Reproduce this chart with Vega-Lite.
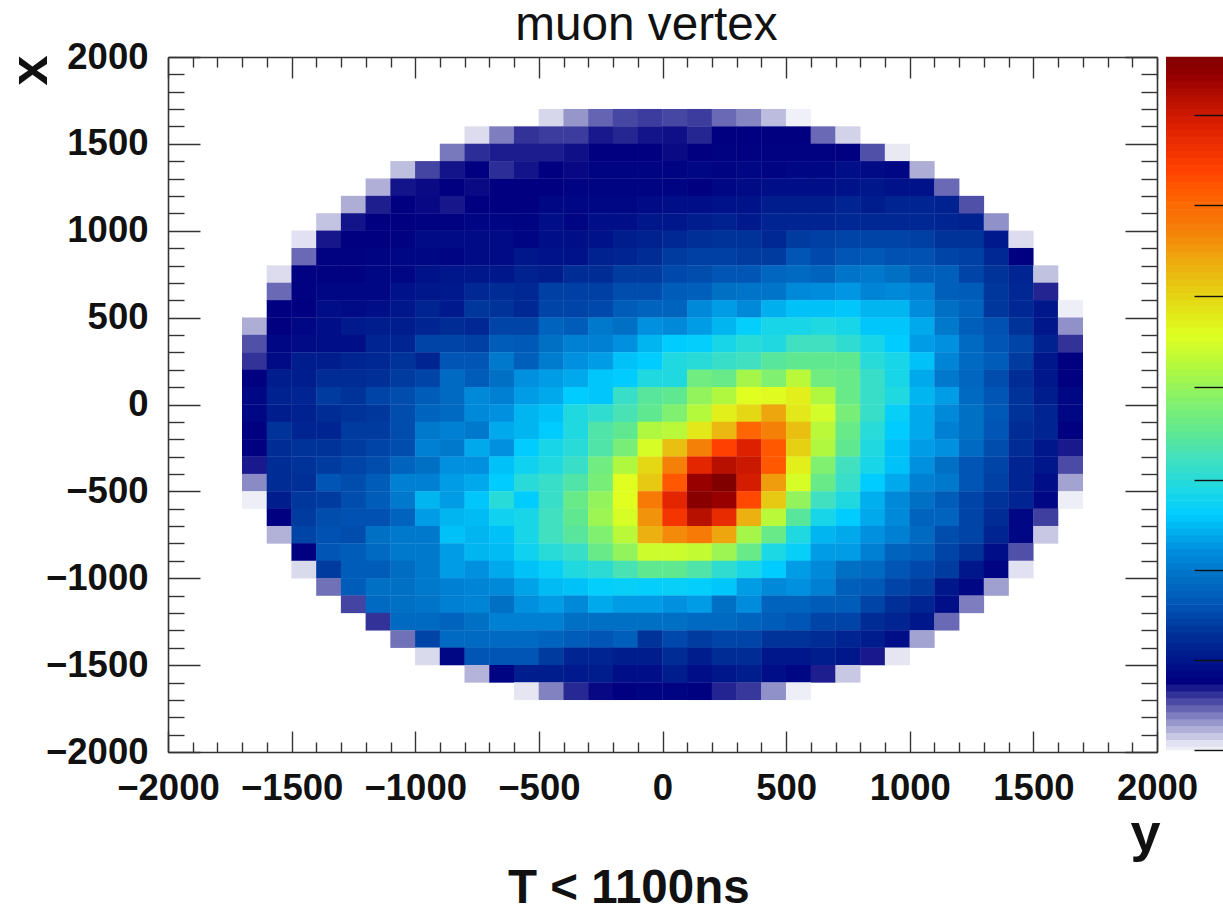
{"$schema":"https://vega.github.io/schema/vega-lite/v6.json","autosize":"pad","padding":{"left":3,"top":2,"right":0,"bottom":0},"background":"white","bounds":"flush","spacing":9,"config":{"view":{"stroke":null},"axis":{"grid":false,"labelFont":"Liberation Sans","labelFontWeight":"bold","labelColor":"#111","titleFont":"Liberation Sans","titleFontWeight":"bold","titleColor":"#111"}},
"title":{"text":"T < 1100ns","orient":"bottom","anchor":"start","font":"Liberation Sans","fontWeight":"bold","fontSize":47.5,"color":"#111","frame":"bounds","dx":505},
"datasets":{"corners":[{"y":-2000,"x":-2000},{"y":2000,"x":2000}],
"cells":[
{"y":-450,"x":1650,"v":1.4},{"y":-350,"x":1650,"v":4},{"y":-250,"x":1650,"v":6},{"y":-150,"x":1650,"v":7.2},{"y":-50,"x":1650,"v":7.6},{"y":50,"x":1650,"v":7.2},{"y":150,"x":1650,"v":7.6},{"y":250,"x":1650,"v":5.8},{"y":350,"x":1650,"v":4.7},{"y":450,"x":1650,"v":2.5},{"y":550,"x":1650,"v":0.4},
{"y":-750,"x":1550,"v":1.2},{"y":-650,"x":1550,"v":5},{"y":-550,"x":1550,"v":8},{"y":-450,"x":1550,"v":7.6},{"y":-350,"x":1550,"v":7.6},{"y":-250,"x":1550,"v":9},{"y":-150,"x":1550,"v":8.5},{"y":-50,"x":1550,"v":9.2},{"y":50,"x":1550,"v":9.4},{"y":150,"x":1550,"v":8.5},{"y":250,"x":1550,"v":10},{"y":350,"x":1550,"v":10},{"y":450,"x":1550,"v":10},{"y":550,"x":1550,"v":10},{"y":650,"x":1550,"v":5.8},{"y":750,"x":1550,"v":1.6},
{"y":-850,"x":1450,"v":5.2},{"y":-750,"x":1450,"v":8.2},{"y":-650,"x":1450,"v":8.9},{"y":-550,"x":1450,"v":8.9},{"y":-450,"x":1450,"v":8.9},{"y":-350,"x":1450,"v":9.4},{"y":-250,"x":1450,"v":10},{"y":-150,"x":1450,"v":10},{"y":-50,"x":1450,"v":10},{"y":50,"x":1450,"v":9.6},{"y":150,"x":1450,"v":10},{"y":250,"x":1450,"v":10.3},{"y":350,"x":1450,"v":10.3},{"y":450,"x":1450,"v":10.3},{"y":550,"x":1450,"v":10.3},{"y":650,"x":1450,"v":10.3},{"y":750,"x":1450,"v":10},{"y":850,"x":1450,"v":6.8},{"y":950,"x":1450,"v":0.7},
{"y":-1050,"x":1350,"v":2.4},{"y":-950,"x":1350,"v":7.3},{"y":-850,"x":1350,"v":9.2},{"y":-750,"x":1350,"v":10},{"y":-650,"x":1350,"v":8.2},{"y":-550,"x":1350,"v":9.2},{"y":-450,"x":1350,"v":10},{"y":-350,"x":1350,"v":9.7},{"y":-250,"x":1350,"v":10.5},{"y":-150,"x":1350,"v":10.5},{"y":-50,"x":1350,"v":10.5},{"y":50,"x":1350,"v":10.5},{"y":150,"x":1350,"v":11},{"y":250,"x":1350,"v":10.5},{"y":350,"x":1350,"v":11},{"y":450,"x":1350,"v":10.5},{"y":550,"x":1350,"v":11},{"y":650,"x":1350,"v":11},{"y":750,"x":1350,"v":12},{"y":850,"x":1350,"v":11.5},{"y":950,"x":1350,"v":11},{"y":1050,"x":1350,"v":3.1},
{"y":-1150,"x":1250,"v":3},{"y":-1050,"x":1250,"v":9.2},{"y":-950,"x":1250,"v":9.6},{"y":-850,"x":1250,"v":10},{"y":-750,"x":1250,"v":9.6},{"y":-650,"x":1250,"v":10},{"y":-550,"x":1250,"v":10},{"y":-450,"x":1250,"v":10},{"y":-350,"x":1250,"v":10.5},{"y":-250,"x":1250,"v":10.5},{"y":-150,"x":1250,"v":10.5},{"y":-50,"x":1250,"v":10.5},{"y":50,"x":1250,"v":10.5},{"y":150,"x":1250,"v":10},{"y":250,"x":1250,"v":11},{"y":350,"x":1250,"v":11.5},{"y":450,"x":1250,"v":12},{"y":550,"x":1250,"v":12},{"y":650,"x":1250,"v":12},{"y":750,"x":1250,"v":12.5},{"y":850,"x":1250,"v":13},{"y":950,"x":1250,"v":12.5},{"y":1050,"x":1250,"v":12.5},{"y":1150,"x":1250,"v":5.8},
{"y":-1250,"x":1150,"v":3.1},{"y":-1150,"x":1150,"v":8.8},{"y":-1050,"x":1150,"v":10},{"y":-950,"x":1150,"v":9.7},{"y":-850,"x":1150,"v":9.1},{"y":-750,"x":1150,"v":10},{"y":-650,"x":1150,"v":10},{"y":-550,"x":1150,"v":10},{"y":-450,"x":1150,"v":11},{"y":-350,"x":1150,"v":11},{"y":-250,"x":1150,"v":11},{"y":-150,"x":1150,"v":11},{"y":-50,"x":1150,"v":11.5},{"y":50,"x":1150,"v":12},{"y":150,"x":1150,"v":12},{"y":250,"x":1150,"v":12.5},{"y":350,"x":1150,"v":12.5},{"y":450,"x":1150,"v":14},{"y":550,"x":1150,"v":14},{"y":650,"x":1150,"v":14},{"y":750,"x":1150,"v":15},{"y":850,"x":1150,"v":14},{"y":950,"x":1150,"v":15},{"y":1050,"x":1150,"v":15},{"y":1150,"x":1150,"v":14.5},{"y":1250,"x":1150,"v":6.8},
{"y":-1350,"x":1050,"v":2.2},{"y":-1250,"x":1050,"v":9.2},{"y":-1150,"x":1050,"v":10},{"y":-1050,"x":1050,"v":10},{"y":-950,"x":1050,"v":10.3},{"y":-850,"x":1050,"v":10.3},{"y":-750,"x":1050,"v":10.7},{"y":-650,"x":1050,"v":10.7},{"y":-550,"x":1050,"v":10.5},{"y":-450,"x":1050,"v":12},{"y":-350,"x":1050,"v":10.7},{"y":-250,"x":1050,"v":12},{"y":-150,"x":1050,"v":12},{"y":-50,"x":1050,"v":13},{"y":50,"x":1050,"v":13},{"y":150,"x":1050,"v":14},{"y":250,"x":1050,"v":14.5},{"y":350,"x":1050,"v":13.5},{"y":450,"x":1050,"v":15},{"y":550,"x":1050,"v":15},{"y":650,"x":1050,"v":15},{"y":750,"x":1050,"v":15.5},{"y":850,"x":1050,"v":15.5},{"y":950,"x":1050,"v":15.5},{"y":1050,"x":1050,"v":15.5},{"y":1150,"x":1050,"v":15},{"y":1250,"x":1050,"v":14.5},{"y":1350,"x":1050,"v":4.2},
{"y":-1450,"x":950,"v":1},{"y":-1350,"x":950,"v":9.1},{"y":-1250,"x":950,"v":10},{"y":-1150,"x":950,"v":10},{"y":-1050,"x":950,"v":10.3},{"y":-950,"x":950,"v":11.5},{"y":-850,"x":950,"v":11.5},{"y":-750,"x":950,"v":11.5},{"y":-650,"x":950,"v":11.5},{"y":-550,"x":950,"v":10.7},{"y":-450,"x":950,"v":12},{"y":-350,"x":950,"v":12},{"y":-250,"x":950,"v":12.5},{"y":-150,"x":950,"v":14},{"y":-50,"x":950,"v":14.5},{"y":50,"x":950,"v":15.5},{"y":150,"x":950,"v":16.5},{"y":250,"x":950,"v":17},{"y":350,"x":950,"v":17},{"y":450,"x":950,"v":15.5},{"y":550,"x":950,"v":18},{"y":650,"x":950,"v":18.5},{"y":750,"x":950,"v":19},{"y":850,"x":950,"v":19},{"y":950,"x":950,"v":19},{"y":1050,"x":950,"v":18.5},{"y":1150,"x":950,"v":17},{"y":1250,"x":950,"v":17},{"y":1350,"x":950,"v":13.5},{"y":1450,"x":950,"v":1.2},
{"y":-1450,"x":850,"v":5.8},{"y":-1350,"x":850,"v":10.3},{"y":-1250,"x":850,"v":10.3},{"y":-1150,"x":850,"v":10.5},{"y":-1050,"x":850,"v":11},{"y":-950,"x":850,"v":11},{"y":-850,"x":850,"v":10.8},{"y":-750,"x":850,"v":11.5},{"y":-650,"x":850,"v":11.5},{"y":-550,"x":850,"v":13},{"y":-450,"x":850,"v":12.5},{"y":-350,"x":850,"v":12.5},{"y":-250,"x":850,"v":14.5},{"y":-150,"x":850,"v":15},{"y":-50,"x":850,"v":16},{"y":50,"x":850,"v":18},{"y":150,"x":850,"v":18.5},{"y":250,"x":850,"v":18.5},{"y":350,"x":850,"v":18},{"y":450,"x":850,"v":18},{"y":550,"x":850,"v":21},{"y":650,"x":850,"v":19.5},{"y":750,"x":850,"v":21},{"y":850,"x":850,"v":21.5},{"y":950,"x":850,"v":20.5},{"y":1050,"x":850,"v":20.5},{"y":1150,"x":850,"v":19},{"y":1250,"x":850,"v":18.5},{"y":1350,"x":850,"v":15.5},{"y":1450,"x":850,"v":10},
{"y":-1550,"x":750,"v":1.2},{"y":-1450,"x":750,"v":10.3},{"y":-1350,"x":750,"v":10.3},{"y":-1250,"x":750,"v":10.3},{"y":-1150,"x":750,"v":11},{"y":-1050,"x":750,"v":11},{"y":-950,"x":750,"v":12.5},{"y":-850,"x":750,"v":13},{"y":-750,"x":750,"v":13},{"y":-650,"x":750,"v":13},{"y":-550,"x":750,"v":14.5},{"y":-450,"x":750,"v":14},{"y":-350,"x":750,"v":16},{"y":-250,"x":750,"v":16},{"y":-150,"x":750,"v":18},{"y":-50,"x":750,"v":18},{"y":50,"x":750,"v":19.5},{"y":150,"x":750,"v":20},{"y":250,"x":750,"v":21},{"y":350,"x":750,"v":21},{"y":450,"x":750,"v":23.5},{"y":550,"x":750,"v":24},{"y":650,"x":750,"v":23},{"y":750,"x":750,"v":25.5},{"y":850,"x":750,"v":26},{"y":950,"x":750,"v":25},{"y":1050,"x":750,"v":22.5},{"y":1150,"x":750,"v":22.5},{"y":1250,"x":750,"v":19},{"y":1350,"x":750,"v":17},{"y":1450,"x":750,"v":15},{"y":1550,"x":750,"v":2.3},
{"y":-1550,"x":650,"v":5.8},{"y":-1450,"x":650,"v":10.3},{"y":-1350,"x":650,"v":11},{"y":-1250,"x":650,"v":11},{"y":-1150,"x":650,"v":11},{"y":-1050,"x":650,"v":12.5},{"y":-950,"x":650,"v":13},{"y":-850,"x":650,"v":13.5},{"y":-750,"x":650,"v":15.5},{"y":-650,"x":650,"v":16},{"y":-550,"x":650,"v":15.5},{"y":-450,"x":650,"v":18.5},{"y":-350,"x":650,"v":18.5},{"y":-250,"x":650,"v":18.5},{"y":-150,"x":650,"v":20},{"y":-50,"x":650,"v":20},{"y":50,"x":650,"v":22},{"y":150,"x":650,"v":22.5},{"y":250,"x":650,"v":25},{"y":350,"x":650,"v":25.5},{"y":450,"x":650,"v":25.5},{"y":550,"x":650,"v":28},{"y":650,"x":650,"v":28.5},{"y":750,"x":650,"v":29.5},{"y":850,"x":650,"v":27.5},{"y":950,"x":650,"v":28},{"y":1050,"x":650,"v":27},{"y":1150,"x":650,"v":22.5},{"y":1250,"x":650,"v":22},{"y":1350,"x":650,"v":17.5},{"y":1450,"x":650,"v":15.5},{"y":1550,"x":650,"v":8.6},
{"y":-1550,"x":550,"v":10},{"y":-1450,"x":550,"v":10},{"y":-1350,"x":550,"v":12},{"y":-1250,"x":550,"v":11.5},{"y":-1150,"x":550,"v":12},{"y":-1050,"x":550,"v":13},{"y":-950,"x":550,"v":15},{"y":-850,"x":550,"v":13.5},{"y":-750,"x":550,"v":17.5},{"y":-650,"x":550,"v":17},{"y":-550,"x":550,"v":15.5},{"y":-450,"x":550,"v":19},{"y":-350,"x":550,"v":19},{"y":-250,"x":550,"v":19.5},{"y":-150,"x":550,"v":22},{"y":-50,"x":550,"v":23},{"y":50,"x":550,"v":23},{"y":150,"x":550,"v":28},{"y":250,"x":550,"v":30},{"y":350,"x":550,"v":28},{"y":450,"x":550,"v":31.5},{"y":550,"x":550,"v":33},{"y":650,"x":550,"v":33},{"y":750,"x":550,"v":33.5},{"y":850,"x":550,"v":32},{"y":950,"x":550,"v":32},{"y":1050,"x":550,"v":28.5},{"y":1150,"x":550,"v":25},{"y":1250,"x":550,"v":23},{"y":1350,"x":550,"v":17.5},{"y":1450,"x":550,"v":15.5},{"y":1550,"x":550,"v":13},{"y":1650,"x":550,"v":0.5},
{"y":-1650,"x":450,"v":3.1},{"y":-1550,"x":450,"v":10},{"y":-1450,"x":450,"v":11},{"y":-1350,"x":450,"v":12},{"y":-1250,"x":450,"v":13.5},{"y":-1150,"x":450,"v":14},{"y":-1050,"x":450,"v":14},{"y":-950,"x":450,"v":15},{"y":-850,"x":450,"v":16},{"y":-750,"x":450,"v":15.5},{"y":-650,"x":450,"v":19},{"y":-550,"x":450,"v":19},{"y":-450,"x":450,"v":23},{"y":-350,"x":450,"v":22},{"y":-250,"x":450,"v":26},{"y":-150,"x":450,"v":25},{"y":-50,"x":450,"v":29},{"y":50,"x":450,"v":28},{"y":150,"x":450,"v":30},{"y":250,"x":450,"v":32},{"y":350,"x":450,"v":34.5},{"y":450,"x":450,"v":37},{"y":550,"x":450,"v":37},{"y":650,"x":450,"v":38},{"y":750,"x":450,"v":37},{"y":850,"x":450,"v":33.5},{"y":950,"x":450,"v":33.5},{"y":1050,"x":450,"v":31},{"y":1150,"x":450,"v":26},{"y":1250,"x":450,"v":22.5},{"y":1350,"x":450,"v":20.5},{"y":1450,"x":450,"v":17},{"y":1550,"x":450,"v":13},{"y":1650,"x":450,"v":4.2},
{"y":-1650,"x":350,"v":6.8},{"y":-1550,"x":350,"v":11},{"y":-1450,"x":350,"v":11.5},{"y":-1350,"x":350,"v":12},{"y":-1250,"x":350,"v":12},{"y":-1150,"x":350,"v":15},{"y":-1050,"x":350,"v":15},{"y":-950,"x":350,"v":19},{"y":-850,"x":350,"v":19},{"y":-750,"x":350,"v":18.5},{"y":-650,"x":350,"v":22},{"y":-550,"x":350,"v":21.5},{"y":-450,"x":350,"v":25},{"y":-350,"x":350,"v":27},{"y":-250,"x":350,"v":27},{"y":-150,"x":350,"v":29},{"y":-50,"x":350,"v":32},{"y":50,"x":350,"v":34},{"y":150,"x":350,"v":34.5},{"y":250,"x":350,"v":37},{"y":350,"x":350,"v":39},{"y":450,"x":350,"v":38},{"y":550,"x":350,"v":42},{"y":650,"x":350,"v":42},{"y":750,"x":350,"v":40},{"y":850,"x":350,"v":37},{"y":950,"x":350,"v":34},{"y":1050,"x":350,"v":30},{"y":1150,"x":350,"v":29},{"y":1250,"x":350,"v":24},{"y":1350,"x":350,"v":21},{"y":1450,"x":350,"v":19},{"y":1550,"x":350,"v":14.5},{"y":1650,"x":350,"v":8},
{"y":-1650,"x":250,"v":8},{"y":-1550,"x":250,"v":11.5},{"y":-1450,"x":250,"v":14},{"y":-1350,"x":250,"v":14},{"y":-1250,"x":250,"v":15},{"y":-1150,"x":250,"v":15.5},{"y":-1050,"x":250,"v":17},{"y":-950,"x":250,"v":15},{"y":-850,"x":250,"v":21},{"y":-750,"x":250,"v":21},{"y":-650,"x":250,"v":26},{"y":-550,"x":250,"v":22.5},{"y":-450,"x":250,"v":26.5},{"y":-350,"x":250,"v":29},{"y":-250,"x":250,"v":30},{"y":-150,"x":250,"v":33},{"y":-50,"x":250,"v":34},{"y":50,"x":250,"v":38},{"y":150,"x":250,"v":39},{"y":250,"x":250,"v":41},{"y":350,"x":250,"v":42},{"y":450,"x":250,"v":45},{"y":550,"x":250,"v":46},{"y":650,"x":250,"v":46},{"y":750,"x":250,"v":46},{"y":850,"x":250,"v":39},{"y":950,"x":250,"v":37},{"y":1050,"x":250,"v":33},{"y":1150,"x":250,"v":27.5},{"y":1250,"x":250,"v":24},{"y":1350,"x":250,"v":22},{"y":1450,"x":250,"v":18},{"y":1550,"x":250,"v":13},{"y":1650,"x":250,"v":10},
{"y":-1650,"x":150,"v":10},{"y":-1550,"x":150,"v":14},{"y":-1450,"x":150,"v":14},{"y":-1350,"x":150,"v":16},{"y":-1250,"x":150,"v":16},{"y":-1150,"x":150,"v":16.5},{"y":-1050,"x":150,"v":18},{"y":-950,"x":150,"v":19},{"y":-850,"x":150,"v":24},{"y":-750,"x":150,"v":22},{"y":-650,"x":150,"v":25},{"y":-550,"x":150,"v":29},{"y":-450,"x":150,"v":30},{"y":-350,"x":150,"v":31},{"y":-250,"x":150,"v":33.5},{"y":-150,"x":150,"v":34},{"y":-50,"x":150,"v":38},{"y":50,"x":150,"v":38},{"y":150,"x":150,"v":48},{"y":250,"x":150,"v":47},{"y":350,"x":150,"v":54},{"y":450,"x":150,"v":50},{"y":550,"x":150,"v":56},{"y":650,"x":150,"v":48},{"y":750,"x":150,"v":47},{"y":850,"x":150,"v":41},{"y":950,"x":150,"v":37},{"y":1050,"x":150,"v":31},{"y":1150,"x":150,"v":26},{"y":1250,"x":150,"v":23.5},{"y":1350,"x":150,"v":20},{"y":1450,"x":150,"v":16},{"y":1550,"x":150,"v":13},{"y":1650,"x":150,"v":10},
{"y":-1650,"x":50,"v":11},{"y":-1550,"x":50,"v":14.5},{"y":-1450,"x":50,"v":15},{"y":-1350,"x":50,"v":18},{"y":-1250,"x":50,"v":17},{"y":-1150,"x":50,"v":19},{"y":-1050,"x":50,"v":20},{"y":-950,"x":50,"v":22},{"y":-850,"x":50,"v":24},{"y":-750,"x":50,"v":28},{"y":-650,"x":50,"v":27},{"y":-550,"x":50,"v":30},{"y":-450,"x":50,"v":31},{"y":-350,"x":50,"v":34},{"y":-250,"x":50,"v":33.5},{"y":-150,"x":50,"v":41},{"y":-50,"x":50,"v":45},{"y":50,"x":50,"v":46},{"y":150,"x":50,"v":52},{"y":250,"x":50,"v":55},{"y":350,"x":50,"v":60},{"y":450,"x":50,"v":60.5},{"y":550,"x":50,"v":62},{"y":650,"x":50,"v":55},{"y":750,"x":50,"v":47},{"y":850,"x":50,"v":41},{"y":950,"x":50,"v":38},{"y":1050,"x":50,"v":32},{"y":1150,"x":50,"v":30},{"y":1250,"x":50,"v":24},{"y":1350,"x":50,"v":21},{"y":1450,"x":50,"v":17},{"y":1550,"x":50,"v":14},{"y":1650,"x":50,"v":11},
{"y":-1650,"x":-50,"v":11},{"y":-1550,"x":-50,"v":14},{"y":-1450,"x":-50,"v":14.5},{"y":-1350,"x":-50,"v":16},{"y":-1250,"x":-50,"v":17},{"y":-1150,"x":-50,"v":17.5},{"y":-1050,"x":-50,"v":20},{"y":-950,"x":-50,"v":23},{"y":-850,"x":-50,"v":24},{"y":-750,"x":-50,"v":28},{"y":-650,"x":-50,"v":29},{"y":-550,"x":-50,"v":32},{"y":-450,"x":-50,"v":33},{"y":-350,"x":-50,"v":38},{"y":-250,"x":-50,"v":40},{"y":-150,"x":-50,"v":43},{"y":-50,"x":-50,"v":46},{"y":50,"x":-50,"v":50},{"y":150,"x":-50,"v":55.5},{"y":250,"x":-50,"v":62},{"y":350,"x":-50,"v":65},{"y":450,"x":-50,"v":71},{"y":550,"x":-50,"v":63},{"y":650,"x":-50,"v":58.5},{"y":750,"x":-50,"v":49},{"y":850,"x":-50,"v":41},{"y":950,"x":-50,"v":35},{"y":1050,"x":-50,"v":31},{"y":1150,"x":-50,"v":28},{"y":1250,"x":-50,"v":25},{"y":1350,"x":-50,"v":21.5},{"y":1450,"x":-50,"v":17},{"y":1550,"x":-50,"v":15},{"y":1650,"x":-50,"v":11},
{"y":-1650,"x":-150,"v":10},{"y":-1550,"x":-150,"v":17},{"y":-1450,"x":-150,"v":15},{"y":-1350,"x":-150,"v":15},{"y":-1250,"x":-150,"v":18},{"y":-1150,"x":-150,"v":18},{"y":-1050,"x":-150,"v":20},{"y":-950,"x":-150,"v":26},{"y":-850,"x":-150,"v":27},{"y":-750,"x":-150,"v":26},{"y":-650,"x":-150,"v":31},{"y":-550,"x":-150,"v":32},{"y":-450,"x":-150,"v":34},{"y":-350,"x":-150,"v":38},{"y":-250,"x":-150,"v":44},{"y":-150,"x":-150,"v":46},{"y":-50,"x":-150,"v":55},{"y":50,"x":-150,"v":56},{"y":150,"x":-150,"v":63},{"y":250,"x":-150,"v":69},{"y":350,"x":-150,"v":79},{"y":450,"x":-150,"v":75},{"y":550,"x":-150,"v":68},{"y":650,"x":-150,"v":56},{"y":750,"x":-150,"v":47},{"y":850,"x":-150,"v":39},{"y":950,"x":-150,"v":34},{"y":1050,"x":-150,"v":31},{"y":1150,"x":-150,"v":27},{"y":1250,"x":-150,"v":25},{"y":1350,"x":-150,"v":21},{"y":1450,"x":-150,"v":16},{"y":1550,"x":-150,"v":15},{"y":1650,"x":-150,"v":10},
{"y":-1650,"x":-250,"v":10},{"y":-1550,"x":-250,"v":16},{"y":-1450,"x":-250,"v":17},{"y":-1350,"x":-250,"v":17},{"y":-1250,"x":-250,"v":18},{"y":-1150,"x":-250,"v":19},{"y":-1050,"x":-250,"v":20},{"y":-950,"x":-250,"v":27},{"y":-850,"x":-250,"v":26},{"y":-750,"x":-250,"v":31},{"y":-650,"x":-250,"v":29},{"y":-550,"x":-250,"v":34},{"y":-450,"x":-250,"v":37},{"y":-350,"x":-250,"v":39},{"y":-250,"x":-250,"v":44},{"y":-150,"x":-250,"v":49},{"y":-50,"x":-250,"v":59},{"y":50,"x":-250,"v":68},{"y":150,"x":-250,"v":75},{"y":250,"x":-250,"v":84},{"y":350,"x":-250,"v":90},{"y":450,"x":-250,"v":81},{"y":550,"x":-250,"v":66},{"y":650,"x":-250,"v":55},{"y":750,"x":-250,"v":46},{"y":850,"x":-250,"v":38},{"y":950,"x":-250,"v":33},{"y":1050,"x":-250,"v":30},{"y":1150,"x":-250,"v":29},{"y":1250,"x":-250,"v":24},{"y":1350,"x":-250,"v":20},{"y":1450,"x":-250,"v":16},{"y":1550,"x":-250,"v":13},{"y":1650,"x":-250,"v":9},
{"y":-1650,"x":-350,"v":9},{"y":-1550,"x":-350,"v":16},{"y":-1450,"x":-350,"v":17},{"y":-1350,"x":-350,"v":18},{"y":-1250,"x":-350,"v":19},{"y":-1150,"x":-350,"v":20},{"y":-1050,"x":-350,"v":23},{"y":-950,"x":-350,"v":25},{"y":-850,"x":-350,"v":29},{"y":-750,"x":-350,"v":29},{"y":-650,"x":-350,"v":33},{"y":-550,"x":-350,"v":36},{"y":-450,"x":-350,"v":38},{"y":-350,"x":-350,"v":41},{"y":-250,"x":-350,"v":48},{"y":-150,"x":-350,"v":55},{"y":-50,"x":-350,"v":65},{"y":50,"x":-350,"v":75},{"y":150,"x":-350,"v":89},{"y":250,"x":-350,"v":94},{"y":350,"x":-350,"v":92},{"y":450,"x":-350,"v":81},{"y":550,"x":-350,"v":62},{"y":650,"x":-350,"v":50},{"y":750,"x":-350,"v":42},{"y":850,"x":-350,"v":37},{"y":950,"x":-350,"v":33},{"y":1050,"x":-350,"v":29},{"y":1150,"x":-350,"v":25},{"y":1250,"x":-350,"v":21},{"y":1350,"x":-350,"v":19},{"y":1450,"x":-350,"v":15},{"y":1550,"x":-350,"v":13},{"y":1650,"x":-350,"v":7},
{"y":-1650,"x":-450,"v":4.5},{"y":-1550,"x":-450,"v":16},{"y":-1450,"x":-450,"v":16.5},{"y":-1350,"x":-450,"v":21},{"y":-1250,"x":-450,"v":20},{"y":-1150,"x":-450,"v":22},{"y":-1050,"x":-450,"v":27},{"y":-950,"x":-450,"v":27},{"y":-850,"x":-450,"v":30},{"y":-750,"x":-450,"v":31},{"y":-650,"x":-450,"v":34},{"y":-550,"x":-450,"v":39},{"y":-450,"x":-450,"v":41},{"y":-350,"x":-450,"v":44},{"y":-250,"x":-450,"v":49},{"y":-150,"x":-450,"v":60},{"y":-50,"x":-450,"v":67},{"y":50,"x":-450,"v":81},{"y":150,"x":-450,"v":97},{"y":250,"x":-450,"v":100},{"y":350,"x":-450,"v":91},{"y":450,"x":-450,"v":72},{"y":550,"x":-450,"v":59},{"y":650,"x":-450,"v":47},{"y":750,"x":-450,"v":41},{"y":850,"x":-450,"v":34},{"y":950,"x":-450,"v":31},{"y":1050,"x":-450,"v":27},{"y":1150,"x":-450,"v":26},{"y":1250,"x":-450,"v":21},{"y":1350,"x":-450,"v":18.5},{"y":1450,"x":-450,"v":15},{"y":1550,"x":-450,"v":12},{"y":1650,"x":-450,"v":3.5},
{"y":-1650,"x":-550,"v":0.5},{"y":-1550,"x":-550,"v":14},{"y":-1450,"x":-550,"v":17.5},{"y":-1350,"x":-550,"v":18},{"y":-1250,"x":-550,"v":20},{"y":-1150,"x":-550,"v":22},{"y":-1050,"x":-550,"v":26},{"y":-950,"x":-550,"v":32},{"y":-850,"x":-550,"v":30},{"y":-750,"x":-550,"v":33.5},{"y":-650,"x":-550,"v":39},{"y":-550,"x":-550,"v":34},{"y":-450,"x":-550,"v":41},{"y":-350,"x":-550,"v":47},{"y":-250,"x":-550,"v":52},{"y":-150,"x":-550,"v":60},{"y":-50,"x":-550,"v":76},{"y":50,"x":-550,"v":89},{"y":150,"x":-550,"v":99},{"y":250,"x":-550,"v":97},{"y":350,"x":-550,"v":83},{"y":450,"x":-550,"v":67},{"y":550,"x":-550,"v":52},{"y":650,"x":-550,"v":42},{"y":750,"x":-550,"v":38},{"y":850,"x":-550,"v":31.5},{"y":950,"x":-550,"v":28},{"y":1050,"x":-550,"v":25},{"y":1150,"x":-550,"v":22},{"y":1250,"x":-550,"v":19},{"y":1350,"x":-550,"v":17},{"y":1450,"x":-550,"v":15},{"y":1550,"x":-550,"v":11},{"y":1650,"x":-550,"v":0.5},
{"y":-1550,"x":-650,"v":10},{"y":-1450,"x":-650,"v":18},{"y":-1350,"x":-650,"v":20},{"y":-1250,"x":-650,"v":20.5},{"y":-1150,"x":-650,"v":20.5},{"y":-1050,"x":-650,"v":23},{"y":-950,"x":-650,"v":30},{"y":-850,"x":-650,"v":32},{"y":-750,"x":-650,"v":32.5},{"y":-650,"x":-650,"v":36},{"y":-550,"x":-650,"v":37},{"y":-450,"x":-650,"v":42},{"y":-350,"x":-650,"v":46},{"y":-250,"x":-650,"v":53},{"y":-150,"x":-650,"v":59},{"y":-50,"x":-650,"v":73},{"y":50,"x":-650,"v":86},{"y":150,"x":-650,"v":94},{"y":250,"x":-650,"v":88},{"y":350,"x":-650,"v":70},{"y":450,"x":-650,"v":56},{"y":550,"x":-650,"v":45},{"y":650,"x":-650,"v":37},{"y":750,"x":-650,"v":34},{"y":850,"x":-650,"v":31},{"y":950,"x":-650,"v":28},{"y":1050,"x":-650,"v":23},{"y":1150,"x":-650,"v":23},{"y":1250,"x":-650,"v":19},{"y":1350,"x":-650,"v":16},{"y":1450,"x":-650,"v":11},{"y":1550,"x":-650,"v":7.5},
{"y":-1550,"x":-750,"v":2.9},{"y":-1450,"x":-750,"v":19},{"y":-1350,"x":-750,"v":20.5},{"y":-1250,"x":-750,"v":20},{"y":-1150,"x":-750,"v":25},{"y":-1050,"x":-750,"v":26},{"y":-950,"x":-750,"v":26},{"y":-850,"x":-750,"v":33},{"y":-750,"x":-750,"v":32},{"y":-650,"x":-750,"v":33},{"y":-550,"x":-750,"v":37},{"y":-450,"x":-750,"v":42},{"y":-350,"x":-750,"v":45},{"y":-250,"x":-750,"v":50},{"y":-150,"x":-750,"v":56},{"y":-50,"x":-750,"v":70},{"y":50,"x":-750,"v":74},{"y":150,"x":-750,"v":76},{"y":250,"x":-750,"v":71},{"y":350,"x":-750,"v":54},{"y":450,"x":-750,"v":47},{"y":550,"x":-750,"v":38},{"y":650,"x":-750,"v":32},{"y":750,"x":-750,"v":31},{"y":850,"x":-750,"v":29},{"y":950,"x":-750,"v":27},{"y":1050,"x":-750,"v":24},{"y":1150,"x":-750,"v":20},{"y":1250,"x":-750,"v":19},{"y":1350,"x":-750,"v":15},{"y":1450,"x":-750,"v":11},{"y":1550,"x":-750,"v":2},
{"y":-1450,"x":-850,"v":10},{"y":-1350,"x":-850,"v":21},{"y":-1250,"x":-850,"v":22},{"y":-1150,"x":-850,"v":24},{"y":-1050,"x":-850,"v":26},{"y":-950,"x":-850,"v":26},{"y":-850,"x":-850,"v":30},{"y":-750,"x":-850,"v":32},{"y":-650,"x":-850,"v":32.5},{"y":-550,"x":-850,"v":36},{"y":-450,"x":-850,"v":39},{"y":-350,"x":-850,"v":41},{"y":-250,"x":-850,"v":47},{"y":-150,"x":-850,"v":52},{"y":-50,"x":-850,"v":58},{"y":50,"x":-850,"v":58},{"y":150,"x":-850,"v":57},{"y":250,"x":-850,"v":53},{"y":350,"x":-850,"v":47},{"y":450,"x":-850,"v":37.5},{"y":550,"x":-850,"v":35},{"y":650,"x":-850,"v":30},{"y":750,"x":-850,"v":30},{"y":850,"x":-850,"v":27},{"y":950,"x":-850,"v":23},{"y":1050,"x":-850,"v":22},{"y":1150,"x":-850,"v":19},{"y":1250,"x":-850,"v":17},{"y":1350,"x":-850,"v":12},{"y":1450,"x":-850,"v":6.8},
{"y":-1450,"x":-950,"v":1.3},{"y":-1350,"x":-950,"v":18},{"y":-1250,"x":-950,"v":22},{"y":-1150,"x":-950,"v":22},{"y":-1050,"x":-950,"v":24.5},{"y":-950,"x":-950,"v":26},{"y":-850,"x":-950,"v":30},{"y":-750,"x":-950,"v":29},{"y":-650,"x":-950,"v":31},{"y":-550,"x":-950,"v":33},{"y":-450,"x":-950,"v":35},{"y":-350,"x":-950,"v":38},{"y":-250,"x":-950,"v":39.5},{"y":-150,"x":-950,"v":43},{"y":-50,"x":-950,"v":46},{"y":50,"x":-950,"v":46},{"y":150,"x":-950,"v":44},{"y":250,"x":-950,"v":40},{"y":350,"x":-950,"v":37},{"y":450,"x":-950,"v":34},{"y":550,"x":-950,"v":30},{"y":650,"x":-950,"v":28},{"y":750,"x":-950,"v":25},{"y":850,"x":-950,"v":24},{"y":950,"x":-950,"v":21},{"y":1050,"x":-950,"v":19.5},{"y":1150,"x":-950,"v":18},{"y":1250,"x":-950,"v":13},{"y":1350,"x":-950,"v":10.5},{"y":1450,"x":-950,"v":1},
{"y":-1350,"x":-1050,"v":5.5},{"y":-1250,"x":-1050,"v":22},{"y":-1150,"x":-1050,"v":25},{"y":-1050,"x":-1050,"v":25},{"y":-950,"x":-1050,"v":26},{"y":-850,"x":-1050,"v":27},{"y":-750,"x":-1050,"v":27.5},{"y":-650,"x":-1050,"v":28},{"y":-550,"x":-1050,"v":30.5},{"y":-450,"x":-1050,"v":32.5},{"y":-350,"x":-1050,"v":33},{"y":-250,"x":-1050,"v":34.5},{"y":-150,"x":-1050,"v":35},{"y":-50,"x":-1050,"v":34.5},{"y":50,"x":-1050,"v":35},{"y":150,"x":-1050,"v":34.5},{"y":250,"x":-1050,"v":33.5},{"y":350,"x":-1050,"v":30},{"y":450,"x":-1050,"v":28},{"y":550,"x":-1050,"v":29},{"y":650,"x":-1050,"v":27},{"y":750,"x":-1050,"v":22.5},{"y":850,"x":-1050,"v":21.5},{"y":950,"x":-1050,"v":19},{"y":1050,"x":-1050,"v":18},{"y":1150,"x":-1050,"v":13},{"y":1250,"x":-1050,"v":11},{"y":1350,"x":-1050,"v":3.6},
{"y":-1250,"x":-1150,"v":7.3},{"y":-1150,"x":-1150,"v":24},{"y":-1050,"x":-1150,"v":25},{"y":-950,"x":-1150,"v":25.5},{"y":-850,"x":-1150,"v":27},{"y":-750,"x":-1150,"v":27.5},{"y":-650,"x":-1150,"v":25},{"y":-550,"x":-1150,"v":29},{"y":-450,"x":-1150,"v":30},{"y":-350,"x":-1150,"v":28},{"y":-250,"x":-1150,"v":31},{"y":-150,"x":-1150,"v":30},{"y":-50,"x":-1150,"v":30},{"y":50,"x":-1150,"v":29},{"y":150,"x":-1150,"v":30},{"y":250,"x":-1150,"v":25},{"y":350,"x":-1150,"v":28.5},{"y":450,"x":-1150,"v":23},{"y":550,"x":-1150,"v":23},{"y":650,"x":-1150,"v":22},{"y":750,"x":-1150,"v":22},{"y":850,"x":-1150,"v":19},{"y":950,"x":-1150,"v":16.5},{"y":1050,"x":-1150,"v":15},{"y":1150,"x":-1150,"v":12},{"y":1250,"x":-1150,"v":5},
{"y":-1150,"x":-1250,"v":8},{"y":-1050,"x":-1250,"v":24},{"y":-950,"x":-1250,"v":24},{"y":-850,"x":-1250,"v":23},{"y":-750,"x":-1250,"v":25},{"y":-650,"x":-1250,"v":27},{"y":-550,"x":-1250,"v":27},{"y":-450,"x":-1250,"v":27},{"y":-350,"x":-1250,"v":25},{"y":-250,"x":-1250,"v":25},{"y":-150,"x":-1250,"v":25},{"y":-50,"x":-1250,"v":25},{"y":50,"x":-1250,"v":25},{"y":150,"x":-1250,"v":24},{"y":250,"x":-1250,"v":24},{"y":350,"x":-1250,"v":23},{"y":450,"x":-1250,"v":22},{"y":550,"x":-1250,"v":21},{"y":650,"x":-1250,"v":19},{"y":750,"x":-1250,"v":19},{"y":850,"x":-1250,"v":16},{"y":950,"x":-1250,"v":15},{"y":1050,"x":-1250,"v":13},{"y":1150,"x":-1250,"v":5.8},
{"y":-1050,"x":-1350,"v":5.5},{"y":-950,"x":-1350,"v":19},{"y":-850,"x":-1350,"v":24},{"y":-750,"x":-1350,"v":24},{"y":-650,"x":-1350,"v":24},{"y":-550,"x":-1350,"v":24},{"y":-450,"x":-1350,"v":23},{"y":-350,"x":-1350,"v":22},{"y":-250,"x":-1350,"v":21},{"y":-150,"x":-1350,"v":22.5},{"y":-50,"x":-1350,"v":17},{"y":50,"x":-1350,"v":19.5},{"y":150,"x":-1350,"v":18},{"y":250,"x":-1350,"v":19},{"y":350,"x":-1350,"v":19},{"y":450,"x":-1350,"v":17},{"y":550,"x":-1350,"v":17},{"y":650,"x":-1350,"v":16},{"y":750,"x":-1350,"v":15},{"y":850,"x":-1350,"v":14},{"y":950,"x":-1350,"v":12},{"y":1050,"x":-1350,"v":3.5},
{"y":-950,"x":-1450,"v":1.3},{"y":-850,"x":-1450,"v":11},{"y":-750,"x":-1450,"v":21},{"y":-650,"x":-1450,"v":21},{"y":-550,"x":-1450,"v":21},{"y":-450,"x":-1450,"v":18},{"y":-350,"x":-1450,"v":15},{"y":-250,"x":-1450,"v":15},{"y":-150,"x":-1450,"v":14},{"y":-50,"x":-1450,"v":14},{"y":50,"x":-1450,"v":16},{"y":150,"x":-1450,"v":14},{"y":250,"x":-1450,"v":16},{"y":350,"x":-1450,"v":16},{"y":450,"x":-1450,"v":13},{"y":550,"x":-1450,"v":13},{"y":650,"x":-1450,"v":14},{"y":750,"x":-1450,"v":13},{"y":850,"x":-1450,"v":9},{"y":950,"x":-1450,"v":0.8},
{"y":-750,"x":-1550,"v":2.8},{"y":-650,"x":-1550,"v":10.5},{"y":-550,"x":-1550,"v":14},{"y":-450,"x":-1550,"v":14},{"y":-350,"x":-1550,"v":13.5},{"y":-250,"x":-1550,"v":14},{"y":-150,"x":-1550,"v":12},{"y":-50,"x":-1550,"v":12},{"y":50,"x":-1550,"v":14},{"y":150,"x":-1550,"v":12},{"y":250,"x":-1550,"v":13},{"y":350,"x":-1550,"v":14},{"y":450,"x":-1550,"v":12},{"y":550,"x":-1550,"v":11},{"y":650,"x":-1550,"v":8.8},{"y":750,"x":-1550,"v":2},
{"y":-550,"x":-1650,"v":0.8},{"y":-450,"x":-1650,"v":4.8},{"y":-350,"x":-1650,"v":8.4},{"y":-250,"x":-1650,"v":9.7},{"y":-150,"x":-1650,"v":10},{"y":-50,"x":-1650,"v":10.5},{"y":50,"x":-1650,"v":10.5},{"y":150,"x":-1650,"v":10.2},{"y":250,"x":-1650,"v":8.6},{"y":350,"x":-1650,"v":7.8},{"y":450,"x":-1650,"v":4.2},{"y":550,"x":-1650,"v":0.5}
],
"bar":[{"v":0.5},{"v":1.5},{"v":2.5},{"v":3.5},{"v":4.5},{"v":5.5},{"v":6.5},{"v":7.5},{"v":8.5},{"v":9.5},{"v":10.5},{"v":11.5},{"v":12.5},{"v":13.5},{"v":14.5},{"v":15.5},{"v":16.5},{"v":17.5},{"v":18.5},{"v":19.5},{"v":20.5},{"v":21.5},{"v":22.5},{"v":23.5},{"v":24.5},{"v":25.5},{"v":26.5},{"v":27.5},{"v":28.5},{"v":29.5},{"v":30.5},{"v":31.5},{"v":32.5},{"v":33.5},{"v":34.5},{"v":35.5},{"v":36.5},{"v":37.5},{"v":38.5},{"v":39.5},{"v":40.5},{"v":41.5},{"v":42.5},{"v":43.5},{"v":44.5},{"v":45.5},{"v":46.5},{"v":47.5},{"v":48.5},{"v":49.5},{"v":50.5},{"v":51.5},{"v":52.5},{"v":53.5},{"v":54.5},{"v":55.5},{"v":56.5},{"v":57.5},{"v":58.5},{"v":59.5},{"v":60.5},{"v":61.5},{"v":62.5},{"v":63.5},{"v":64.5},{"v":65.5},{"v":66.5},{"v":67.5},{"v":68.5},{"v":69.5},{"v":70.5},{"v":71.5},{"v":72.5},{"v":73.5},{"v":74.5},{"v":75.5},{"v":76.5},{"v":77.5},{"v":78.5},{"v":79.5},{"v":80.5},{"v":81.5},{"v":82.5},{"v":83.5},{"v":84.5},{"v":85.5},{"v":86.5},{"v":87.5},{"v":88.5},{"v":89.5},{"v":90.5},{"v":91.5},{"v":92.5},{"v":93.5},{"v":94.5},{"v":95.5},{"v":96.5},{"v":97.5},{"v":98.5},{"v":99.5},{"v":1},{"v":2},{"v":3},{"v":4},{"v":5},{"v":6},{"v":7},{"v":8},{"v":9},{"v":10},{"v":11},{"v":12},{"v":13},{"v":14},{"v":15},{"v":16},{"v":84},{"v":85},{"v":86},{"v":87},{"v":88},{"v":89},{"v":90},{"v":91},{"v":92},{"v":93},{"v":94},{"v":95},{"v":96},{"v":97},{"v":98},{"v":99}]},
"hconcat":[
{"width":989,"height":695,
"title":{"text":"muon vertex","anchor":"middle","font":"Liberation Sans","fontWeight":"normal","fontSize":47.7,"color":"#111","dx":-16,"offset":-11},
"resolve":{"axis":{"x":"independent","y":"independent"}},
"layer":[
{"data":{"name":"cells"},"mark":{"type":"rect","width":25.1,"height":17.7},
"encoding":{
"x":{"field":"y","type":"quantitative","scale":{"domain":[-2000,2000],"nice":false},"axis":{"orient":"bottom","values":[-2000,-1500,-1000,-500,0,500,1000,1500,2000],"format":"d","tickSize":-21,"tickColor":"#333","tickWidth":1.4,"domainColor":"#333","domainWidth":1.6,"labelFontSize":36.5,"labelFlush":false,"labelOverlap":false,"labelBound":false,"labelPadding":39,"title":"y","titleFontSize":54,"titleAnchor":"end","titleAlign":"right","titleBaseline":"alphabetic","titleX":992,"titleY":98}},
"y":{"field":"x","type":"quantitative","scale":{"domain":[-2000,2000],"nice":false},"axis":{"orient":"left","values":[-2000,-1500,-1000,-500,0,500,1000,1500,2000],"format":"d","tickSize":-32,"tickColor":"#333","tickWidth":1.4,"domainColor":"#333","domainWidth":1.6,"labelFontSize":36.5,"labelFlush":false,"labelOverlap":false,"labelBound":false,"labelPadding":52,"title":"x","titleFontSize":54,"titleAnchor":"end","titleAlign":"right","titleX":-111,"titleY":-2}},
"color":{"field":"v","type":"quantitative","legend":null,"scale":{"interpolate":"rgb","clamp":true,"domain":[0,10,17,21,25,29,32,34,38,42,46,50,55,60,65,70,75,80,84,90,94,97,100],"range":["#fafafd","#000080","#003399","#0055b5","#0070c5","#0090e0","#00b5f0","#00ccff","#20d8e0","#40e0c0","#60e890","#80f070","#b0f840","#e0ff20","#e4d814","#ecb010","#f58008","#ff6000","#ff4000","#dd2000","#b81000","#980000","#800000"]}}}},
{"data":{"name":"corners"},"mark":{"type":"point","opacity":0},
"encoding":{
"x":{"field":"y","type":"quantitative","scale":{"domain":[-2000,2000],"nice":false},"axis":{"orient":"bottom","values":[-1900,-1800,-1700,-1600,-1400,-1300,-1200,-1100,-900,-800,-700,-600,-400,-300,-200,-100,100,200,300,400,600,700,800,900,1100,1200,1300,1400,1600,1700,1800,1900],"tickSize":-10,"tickColor":"#333","tickWidth":1.4,"labels":false,"domain":false,"title":null}},
"y":{"field":"x","type":"quantitative","scale":{"domain":[-2000,2000],"nice":false},"axis":{"orient":"left","values":[-1900,-1800,-1700,-1600,-1400,-1300,-1200,-1100,-900,-800,-700,-600,-400,-300,-200,-100,100,200,300,400,600,700,800,900,1100,1200,1300,1400,1600,1700,1800,1900],"tickSize":-16,"tickColor":"#333","tickWidth":1.4,"labels":false,"domain":false,"title":null}}}},
{"data":{"name":"corners"},"mark":{"type":"point","opacity":0},
"encoding":{
"x":{"field":"y","type":"quantitative","scale":{"domain":[-2000,2000],"nice":false},"axis":{"orient":"top","values":[-2000,-1500,-1000,-500,0,500,1000,1500,2000],"tickSize":-21,"tickColor":"#333","tickWidth":1.4,"labels":false,"domainColor":"#333","domainWidth":1.6,"title":null}},
"y":{"field":"x","type":"quantitative","scale":{"domain":[-2000,2000],"nice":false},"axis":{"orient":"right","values":[-2000,-1500,-1000,-500,0,500,1000,1500,2000],"tickSize":-32,"tickColor":"#333","tickWidth":1.4,"labels":false,"domainColor":"#333","domainWidth":1.6,"title":null}}}},
{"data":{"name":"corners"},"mark":{"type":"point","opacity":0},
"encoding":{
"x":{"field":"y","type":"quantitative","scale":{"domain":[-2000,2000],"nice":false},"axis":{"orient":"top","values":[-1900,-1800,-1700,-1600,-1400,-1300,-1200,-1100,-900,-800,-700,-600,-400,-300,-200,-100,100,200,300,400,600,700,800,900,1100,1200,1300,1400,1600,1700,1800,1900],"tickSize":-10,"tickColor":"#333","tickWidth":1.4,"labels":false,"domain":false,"title":null}},
"y":{"field":"x","type":"quantitative","scale":{"domain":[-2000,2000],"nice":false},"axis":{"orient":"right","values":[-1900,-1800,-1700,-1600,-1400,-1300,-1200,-1100,-900,-800,-700,-600,-400,-300,-200,-100,100,200,300,400,600,700,800,900,1100,1200,1300,1400,1600,1700,1800,1900],"tickSize":-16,"tickColor":"#333","tickWidth":1.4,"labels":false,"domain":false,"title":null}}}}
]},
{"width":57,"height":693,"data":{"name":"bar"},"mark":{"type":"rect","height":7.6},
"encoding":{
"y":{"field":"v","type":"quantitative","scale":{"domain":[0,100],"nice":false},"axis":{"orient":"right","values":[0,13,26,39,52.4,65.5,78.6,91.7],"tickSize":-29,"tickColor":"#111","tickWidth":1.4,"labels":false,"domain":false,"title":null,"zindex":1}},
"color":{"field":"v","type":"quantitative","legend":null,"scale":{"interpolate":"rgb","clamp":true,"domain":[0,10,17,21,25,29,32,34,38,42,46,50,55,60,65,70,75,80,84,90,94,97,100],"range":["#fafafd","#000080","#003399","#0055b5","#0070c5","#0090e0","#00b5f0","#00ccff","#20d8e0","#40e0c0","#60e890","#80f070","#b0f840","#e0ff20","#e4d814","#ecb010","#f58008","#ff6000","#ff4000","#dd2000","#b81000","#980000","#800000"]}}}}
]}
